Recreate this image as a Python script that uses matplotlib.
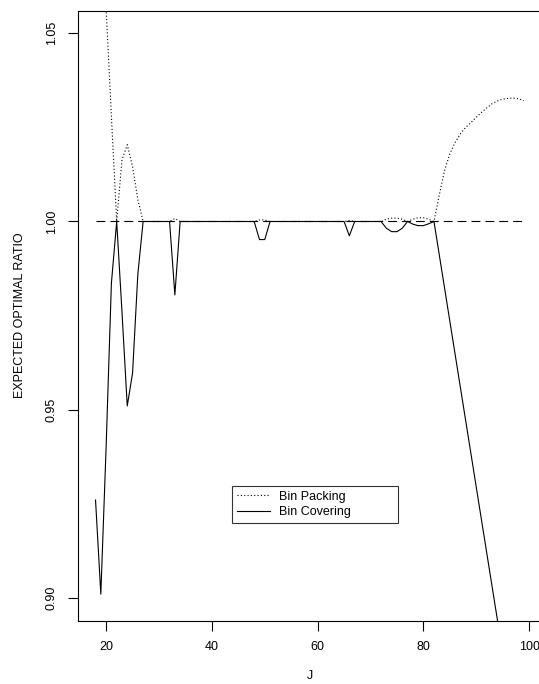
import matplotlib
matplotlib.use("Agg")
import matplotlib.pyplot as plt

# expected optimal ratio vs J (breakpoints)
pack_j = [18, 19, 20, 21, 22, 23, 24, 25, 26, 27, 32, 33, 34, 48, 49, 50, 51,
          65, 66, 67, 72, 73, 74, 75, 76, 77, 78, 79, 80, 81, 82,
          83, 84, 85, 86, 87, 88, 89, 90, 91, 92, 93, 94, 95, 96, 97, 98, 99]
pack_v = [1.13, 1.09, 1.0565, 1.028, 1.000, 1.0164, 1.0204, 1.0146, 1.0058, 1.000,
          1.000, 1.0008, 1.000, 1.000, 1.0004, 1.0004, 1.000,
          1.000, 1.0003, 1.000, 1.000, 1.0006, 1.0009, 1.0009, 1.0006, 1.000,
          1.0006, 1.0010, 1.0010, 1.0006, 1.000,
          1.007, 1.0135, 1.018, 1.021, 1.0233, 1.025, 1.0263, 1.0277, 1.029,
          1.0302, 1.0313, 1.032, 1.0325, 1.0327, 1.0328, 1.0326, 1.0321]

cover_j = [18, 19, 20, 21, 22, 23, 24, 25, 26, 27, 32, 33, 34, 48, 49, 50, 51,
           65, 66, 67, 72, 73, 74, 75, 76, 77, 78, 79, 80, 81, 82, 99]
cover_v = [0.926, 0.901, 0.940, 0.9836, 1.000, 0.976, 0.951, 0.9597, 0.986, 1.000,
           1.000, 0.9805, 1.000, 1.000, 0.9952, 0.9952, 1.000,
           1.000, 0.9962, 1.000, 1.000, 0.9982, 0.9973, 0.9973, 0.9982, 1.000,
           0.9993, 0.9989, 0.9989, 0.9994, 1.000, 0.850]

ref_j = [18, 99]
ref_v = [1.0, 1.0]

x_ticks = [20, 40, 60, 80, 100]
y_ticks = [0.90, 0.95, 1.00, 1.05]

plt.rcParams["font.family"] = ["Liberation Sans", "DejaVu Sans"]
plt.rcParams["font.size"] = 9

W, H = 539, 684
fig = plt.figure(figsize=(W / 100, H / 100), dpi=100)
ax = fig.add_axes([78.4 / W, 1 - 620.5 / H, (541 - 78.4) / W, (620.5 - 10.7) / H])

ax.plot(ref_j, ref_v, color="black", lw=0.8, linestyle=(0, (8, 4.5)))
ax.plot(pack_j, pack_v, color="black", lw=0.8, linestyle=(0, (1, 2)), label="Bin Packing")
ax.plot(cover_j, cover_v, color="black", lw=0.8, label="Bin Covering")

ax.set_xlim(14.76, 102.24)
ax.set_ylim(0.894, 1.056)
ax.set_xticks(x_ticks)
ax.set_yticks(y_ticks)
ax.set_yticklabels([f"{v:.2f}" for v in y_ticks], rotation=90, va="center")
ax.tick_params(direction="out", length=7, width=0.8, pad=8, labelsize=9)
for s in ax.spines.values():
    s.set_linewidth(0.8)

ax.set_xlabel("J", fontsize=9, labelpad=12)
ax.set_ylabel("EXPECTED OPTIMAL RATIO", fontsize=9, labelpad=14)

leg = ax.legend(loc="lower left", bbox_to_anchor=(0.333, 0.160, 0.357, 0.062),
                mode="expand", frameon=True, fancybox=False, edgecolor="black",
                handlelength=2.6, handletextpad=0.7, borderpad=0.4,
                labelspacing=0.25, fontsize=9, borderaxespad=0)
leg.get_frame().set_linewidth(0.8)

fig.savefig("out.png", dpi=100)
